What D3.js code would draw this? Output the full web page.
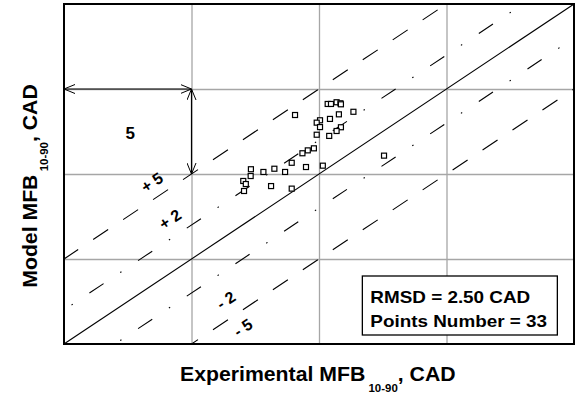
<!DOCTYPE html>
<html>
<head>
<meta charset="utf-8">
<script src="https://cdnjs.cloudflare.com/ajax/libs/d3/7.8.5/d3.min.js"></script>
<style>
  body { margin: 0; background: #fff; }
  text { font-family: "Liberation Sans", Arial, sans-serif; font-weight: bold; }
</style>
</head>
<body>
<div id="chart"></div>
<script>
// experimental vs model MFB10-90 (CAD)
const expValues = [9.06, 10.34, 10.47, 10.69, 10.84, 10.86, 11.35, 10.78, 10.43, 10.04, 9.91,
    10.04, 10.86, 10.69, 9.91, 10.40, 9.80, 9.56, 9.35, 8.93, 10.15, 9.49, 8.25, 7.82, 8.67,
    7.33, 7.32, 7.03, 7.13, 7.06, 8.12, 8.93, 12.55];
const modelValues = [13.47, 14.12, 14.12, 14.22, 14.16, 14.10, 13.66, 13.51, 13.24, 13.16, 13.02,
    12.76, 12.75, 12.53, 12.31, 12.24, 11.51, 11.39, 11.22, 10.66, 10.49, 10.41, 10.31, 10.12, 10.12,
    10.28, 9.88, 9.59, 9.41, 9.00, 9.29, 9.14, 11.08];

// offset lines y = x + offset
const offsets = [5, 2, 0, -2, -5];
const labels = [
    { offset: 5, text: "+ 5", at: 3.45, shift: -18 },
    { offset: 2, text: "+ 2", at: 4.16, shift: -20 },
    { offset: -2, text: "- 2", at: 6.35, shift: 30 },
    { offset: -5, text: "- 5", at: 7.02, shift: 18 }
];

const gridTicks = [5, 10, 15];
const axisDomain = [0, 20];

const margin = { top: 4, right: 10, bottom: 58, left: 64 };
const width = 584 - margin.left - margin.right;
const height = 402 - margin.top - margin.bottom;
const stretch = 1.09; // text in the original is a bit wider than Arial

const svg = d3.select("#chart")
    .append("svg")
    .attr("width", 584)
    .attr("height", 402)
    .append("g")
    .attr("transform", `translate(${margin.left},${margin.top})`);

const x = d3.scaleLinear().domain(axisDomain).range([0, width]);
const y = d3.scaleLinear().domain(axisDomain).range([height, 0]);

// grid
svg.append("g")
    .call(d3.axisBottom(x).tickValues(gridTicks).tickSize(height).tickFormat(""))
    .call(g => g.select(".domain").remove())
    .call(g => g.selectAll("line").attr("stroke", "#a6a6a6").attr("stroke-width", 1.3));
svg.append("g")
    .call(d3.axisLeft(y).tickValues(gridTicks).tickSize(-width).tickFormat(""))
    .call(g => g.select(".domain").remove())
    .call(g => g.selectAll("line").attr("stroke", "#a6a6a6").attr("stroke-width", 1.3));

svg.append("clipPath").attr("id", "clip")
    .append("rect").attr("width", width).attr("height", height);

// reference lines
const dashes = { 5: "18,18", 2: "17,20,1.5,20", 0: null };
svg.append("g").attr("clip-path", "url(#clip)")
    .selectAll("line")
    .data(offsets)
    .join("line")
    .attr("x1", d => x(-20))
    .attr("y1", d => y(-20 + d))
    .attr("x2", d => x(40))
    .attr("y2", d => y(40 + d))
    .attr("stroke", "#000")
    .attr("stroke-width", 1.1)
    .attr("stroke-dasharray", d => dashes[Math.abs(d)]);

const angle = -Math.atan((y(0) - y(1)) / (x(1) - x(0))) * 180 / Math.PI;
svg.append("g")
    .selectAll("text")
    .data(labels)
    .join("text")
    .attr("transform", d => `translate(${x(d.at)},${y(d.at + d.offset) + d.shift}) rotate(${angle})`)
    .attr("text-anchor", "middle")
    .attr("dy", "0.35em")
    .attr("font-size", 16)
    .text(d => d.text);

// "5" scale annotation
const defs = svg.append("defs");
defs.append("marker")
    .attr("id", "arrow")
    .attr("viewBox", "0 -5 12 10")
    .attr("refX", 11).attr("refY", 0)
    .attr("markerWidth", 12).attr("markerHeight", 10)
    .attr("markerUnits", "userSpaceOnUse")
    .attr("orient", "auto-start-reverse")
    .append("path")
    .attr("d", "M0,-4.5L11,0L0,4.5")
    .attr("fill", "none")
    .attr("stroke", "#000")
    .attr("stroke-width", 1);

svg.append("line")
    .attr("x1", x(0)).attr("y1", y(15)).attr("x2", x(5)).attr("y2", y(15))
    .attr("stroke", "#000").attr("stroke-width", 1.2)
    .attr("marker-start", "url(#arrow)").attr("marker-end", "url(#arrow)");
svg.append("line")
    .attr("x1", x(5)).attr("y1", y(15)).attr("x2", x(5)).attr("y2", y(10))
    .attr("stroke", "#000").attr("stroke-width", 1.2)
    .attr("marker-start", "url(#arrow)").attr("marker-end", "url(#arrow)");
svg.append("text")
    .attr("x", x(2.6)).attr("y", y(12.4))
    .attr("text-anchor", "middle")
    .attr("dy", "0.35em")
    .attr("font-size", 17)
    .text("5");

// data points
const s = 5;
svg.append("g")
    .selectAll("rect")
    .data(expValues.map((v, i) => [v, modelValues[i]]))
    .join("rect")
    .attr("x", d => x(d[0]) - s / 2)
    .attr("y", d => y(d[1]) - s / 2)
    .attr("width", s)
    .attr("height", s)
    .attr("fill", "#fff")
    .attr("stroke", "#000")
    .attr("stroke-width", 1.2);

// stats box
const box = svg.append("g").attr("transform", `translate(${x(11.7)},${y(4.0)})`);
box.append("rect")
    .attr("width", 195).attr("height", 59)
    .attr("fill", "#fff").attr("stroke", "#000").attr("stroke-width", 1.3);
box.append("text").attr("transform", "translate(8,27) scale(1.18,1)")
    .attr("font-size", 16).text("RMSD = 2.50 CAD");
box.append("text").attr("transform", "translate(8,51) scale(1.18,1)")
    .attr("font-size", 16).text("Points Number = 33");

// frame
svg.append("rect")
    .attr("width", width).attr("height", height)
    .attr("fill", "none").attr("stroke", "#000").attr("stroke-width", 2);

// axis titles
function title(sel, main) {
    sel.append("tspan").text(main);
    sel.append("tspan").attr("font-size", 10.5).attr("dx", 3).attr("dy", 11).text("10-90");
    sel.append("tspan").attr("dy", -11).text(", CAD");
}

svg.append("text")
    .attr("transform", `translate(${180 - margin.left},${height + 37}) scale(${stretch},1)`)
    .attr("font-size", 19.5)
    .call(title, "Experimental MFB");

svg.append("text")
    .attr("transform", `translate(${-27},${height / 2 + 12}) rotate(-90) scale(${stretch},1)`)
    .attr("text-anchor", "middle")
    .attr("font-size", 19.5)
    .call(title, "Model MFB");
</script>
</body>
</html>
